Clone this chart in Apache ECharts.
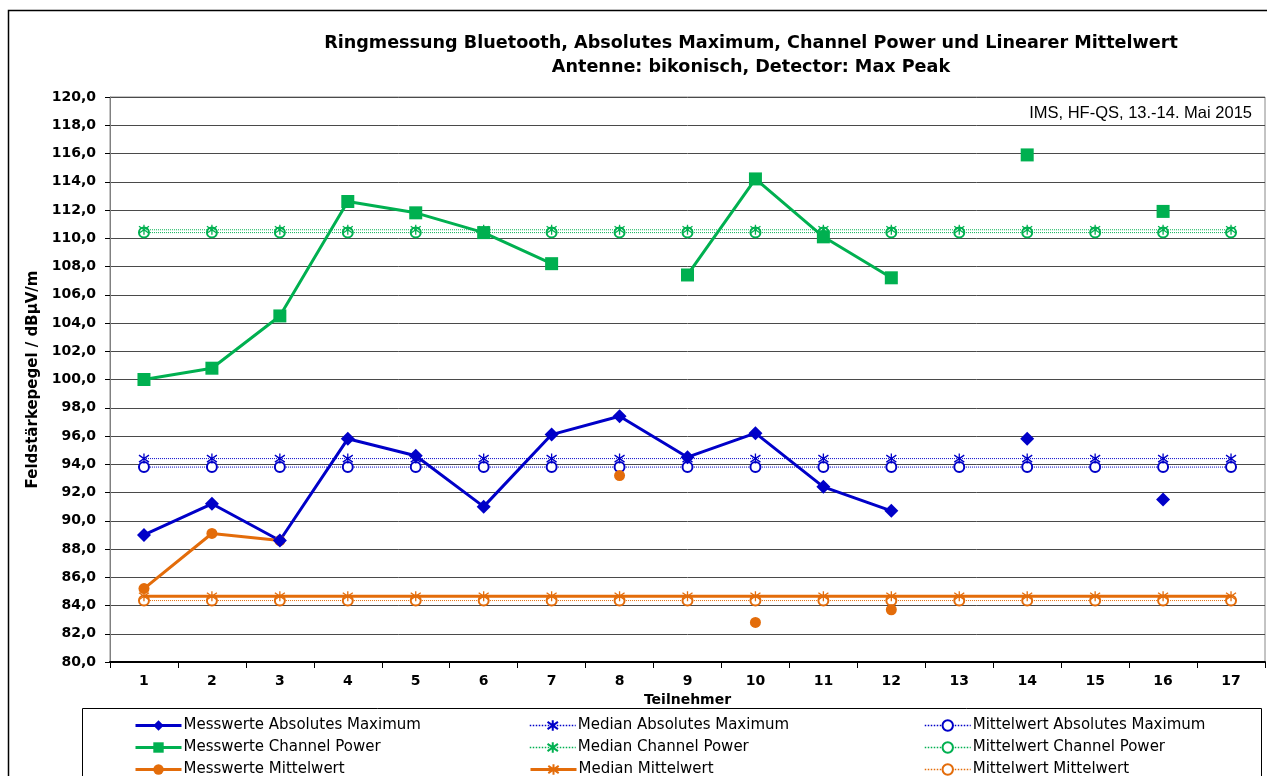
<!DOCTYPE html>
<html>
<head>
<meta charset="utf-8">
<title>Ringmessung Bluetooth</title>
<script src="https://cdn.jsdelivr.net/npm/echarts@6/dist/echarts.min.js"></script>
<style>
* { margin: 0; padding: 0; }
body { background: #fff; }
#chart { width: 1267px; height: 776px; }
</style>
</head>
<body>
<div id="chart"></div>
<script>
// Teilnehmer 1..17
const categories = ["1", "2", "3", "4", "5", "6", "7", "8", "9", "10", "11", "12", "13", "14", "15", "16", "17"];

// Messwerte (null = kein Wert)
const absMax = [89.0, 91.2, 88.6, 95.8, 94.6, 91.0, 96.1, 97.4, 94.5, 96.2, 92.4, 90.7, null, 95.8, null, 91.5, null];
const channelPower = [100.0, 100.8, 104.5, 112.6, 111.8, 110.4, 108.2, null, 107.4, 114.2, 110.1, 107.2, null, 115.9, null, 111.9, null];
const linMittel = [85.2, 89.1, 88.6, null, null, null, null, 93.2, null, 82.8, null, 83.7, null, null, null, null, null];

// Median / Mittelwert
const medianAbsMax = [94.4, 94.4, 94.4, 94.4, 94.4, 94.4, 94.4, 94.4, 94.4, 94.4, 94.4, 94.4, 94.4, 94.4, 94.4, 94.4, 94.4];
const mittelAbsMax = [93.8, 93.8, 93.8, 93.8, 93.8, 93.8, 93.8, 93.8, 93.8, 93.8, 93.8, 93.8, 93.8, 93.8, 93.8, 93.8, 93.8];
const medianCP = [110.6, 110.6, 110.6, 110.6, 110.6, 110.6, 110.6, 110.6, 110.6, 110.6, 110.6, 110.6, 110.6, 110.6, 110.6, 110.6, 110.6];
const mittelCP = [110.4, 110.4, 110.4, 110.4, 110.4, 110.4, 110.4, 110.4, 110.4, 110.4, 110.4, 110.4, 110.4, 110.4, 110.4, 110.4, 110.4];
const medianMW = [84.65, 84.65, 84.65, 84.65, 84.65, 84.65, 84.65, 84.65, 84.65, 84.65, 84.65, 84.65, 84.65, 84.65, 84.65, 84.65, 84.65];
const mittelMW = [84.35, 84.35, 84.35, 84.35, 84.35, 84.35, 84.35, 84.35, 84.35, 84.35, 84.35, 84.35, 84.35, 84.35, 84.35, 84.35, 84.35];

// Legende: drei Spalten
const legendCol1 = ["Messwerte Absolutes Maximum", "Messwerte Channel Power", "Messwerte Mittelwert"];
const legendCol2 = ["Median Absolutes Maximum", "Median Channel Power", "Median Mittelwert"];
const legendCol3 = ["Mittelwert Absolutes Maximum", "Mittelwert Channel Power", "Mittelwert Mittelwert"];

const BLUE = "#0000c8";
const GREEN = "#00b050";
const ORANGE = "#e36c0a";
const STAR = "path://M5,0L5,10M0.5,1.5L9.5,8.5M9.5,1.5L0.5,8.5";
const FONT = "DejaVu Sans";

function messwerte(name, data, color, symbol, size) {
  return {
    name: name,
    type: "line",
    data: data,
    symbol: symbol,
    symbolSize: size,
    showAllSymbol: true,
    connectNulls: false,
    z: 5,
    lineStyle: { color: color, width: 3 },
    itemStyle: { color: color }
  };
}

function median(name, data, color, width, type) {
  return {
    name: name,
    type: "line",
    data: data,
    symbol: STAR,
    symbolSize: 10,
    showAllSymbol: true,
    z: 3,
    lineStyle: { color: color, width: width, type: type },
    itemStyle: { color: "rgba(0,0,0,0)", borderColor: color, borderWidth: 1.3 }
  };
}

function mittel(name, data, color) {
  return {
    name: name,
    type: "line",
    data: data,
    symbol: "emptyCircle",
    symbolSize: 10,
    showAllSymbol: true,
    z: 2,
    lineStyle: { color: color, width: 1, type: "dotted" },
    itemStyle: { color: color, borderColor: color, borderWidth: 1.3 }
  };
}

// one legend per entry so the three columns sit exactly
function legendItems(left, names) {
  return names.map((n, i) => {
    let thick = n.indexOf("Messwerte") === 0 || n === "Median Mittelwert";
    return {
      orient: "horizontal",
      left: left,
      top: 713 + i * 22,
      itemWidth: 46,
      itemHeight: 13,
      data: [n],
      lineStyle: thick ? { width: 3, type: "solid" } : { width: 1.5, type: "dotted" },
      textStyle: { fontFamily: FONT, fontSize: 15, color: "#000", padding: [0, 0, 0, -3] }
    };
  });
}

let chart = echarts.init(document.getElementById("chart"));
let option = {
  animation: false,
  backgroundColor: "#fff",
  graphic: [
    { type: "rect", shape: { x: 8.5, y: 10.5, width: 1300, height: 800 }, style: { fill: "none", stroke: "#000", lineWidth: 1.5 }, z: -1 },
    { type: "rect", shape: { x: 82.5, y: 708.5, width: 1179, height: 100 }, style: { fill: "none", stroke: "#000", lineWidth: 1 }, z: -1 },
    {
      type: "text", x: 751, y: 43,
      style: { text: "Ringmessung Bluetooth, Absolutes Maximum, Channel Power und Linearer Mittelwert", fontFamily: FONT, fontWeight: "bold", fontSize: 17.6, fill: "#000", align: "center", verticalAlign: "middle" }
    },
    {
      type: "text", x: 751, y: 67,
      style: { text: "Antenne: bikonisch, Detector: Max Peak", fontFamily: FONT, fontWeight: "bold", fontSize: 17.6, fill: "#000", align: "center", verticalAlign: "middle" }
    },
    {
      type: "text", x: 1252, y: 113, z: 10,
      style: { text: "IMS, HF-QS, 13.-14. Mai 2015", fontFamily: "Liberation Sans", fontSize: 16.5, fill: "#000", align: "right", verticalAlign: "middle" }
    }
  ],
  legend: [].concat(legendItems(129, legendCol1), legendItems(524, legendCol2), legendItems(919, legendCol3)),
  grid: {
    left: 110,
    right: 2,
    top: 97,
    bottom: 114,
    show: true,
    borderColor: "#888",
    borderWidth: 1
  },
  xAxis: {
    type: "category",
    data: categories,
    boundaryGap: true,
    name: "Teilnehmer",
    nameLocation: "middle",
    nameGap: 28,
    nameTextStyle: { fontFamily: FONT, fontWeight: "bold", fontSize: 14, color: "#000" },
    axisLine: { lineStyle: { color: "#000", width: 2 } },
    axisTick: { show: true, length: 6, lineStyle: { color: "#000" } },
    axisLabel: { interval: 0, margin: 12, fontFamily: FONT, fontWeight: "bold", fontSize: 14, color: "#000" }
  },
  yAxis: {
    type: "value",
    min: 80,
    max: 120,
    interval: 2,
    name: "Feldstärkepegel / dBµV/m",
    nameLocation: "middle",
    nameRotate: 90,
    nameGap: 67,
    nameTextStyle: { fontFamily: FONT, fontWeight: "bold", fontSize: 15, color: "#000" },
    axisLine: { show: true, lineStyle: { color: "#808080", width: 1 } },
    axisTick: { show: true, length: 5, lineStyle: { color: "#000" } },
    axisLabel: {
      margin: 14,
      fontFamily: FONT,
      fontWeight: "bold",
      fontSize: 14,
      color: "#000",
      formatter: v => v.toFixed(1).replace(".", ",")
    },
    splitLine: { show: true, lineStyle: { color: "#4a4a4a", width: 1 } }
  },
  series: [
    mittel("Mittelwert Absolutes Maximum", mittelAbsMax, BLUE),
    mittel("Mittelwert Channel Power", mittelCP, GREEN),
    mittel("Mittelwert Mittelwert", mittelMW, ORANGE),
    median("Median Absolutes Maximum", medianAbsMax, BLUE, 1, "dotted"),
    median("Median Channel Power", medianCP, GREEN, 1, "dotted"),
    median("Median Mittelwert", medianMW, ORANGE, 3, "solid"),
    messwerte("Messwerte Channel Power", channelPower, GREEN, "rect", 13),
    messwerte("Messwerte Mittelwert", linMittel, ORANGE, "circle", 11),
    messwerte("Messwerte Absolutes Maximum", absMax, BLUE, "diamond", 14)
  ]
};
chart.setOption(option);
</script>
</body>
</html>
